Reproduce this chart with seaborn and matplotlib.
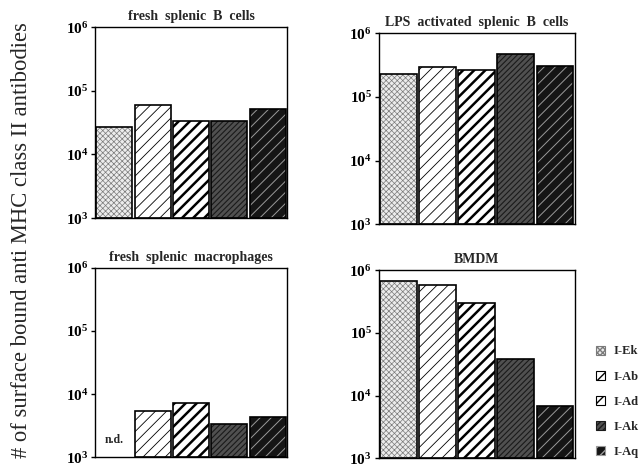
import numpy as np
import pandas as pd
import matplotlib
matplotlib.use("Agg")
import matplotlib.pyplot as plt
from matplotlib.patches import Rectangle, Patch
from matplotlib.ticker import NullLocator
import seaborn as sns

# MHC class II alleles (one bar per allele in every panel)
alleles = ["I-Ek", "I-Ab", "I-Ad", "I-Ak", "I-Aq"]

# panel titles
titles = ["fresh  splenic  B  cells", "LPS  activated  splenic  B  cells",
          "fresh  splenic  macrophages", "BMDM"]

# surface bound antibodies per cell
b_fresh = [27500, 59000, 34000, 33000, 52000]
b_lps = [230000, 295000, 265000, 470000, 305000]
mac_fresh = [np.nan, 5400, 7200, 3400, 4400]   # I-Ek not determined
bmdm = [675000, 585000, 305000, 39000, 6700]

# look of each allele: face, hatch, hatch colour, hatch width
face_colors = ["#ececec", "white", "white", "#505050", "#151515"]
hatches = ["xxxxxx", "///", "///", "//////", "///"]
hatch_colors = ["#7a7a7a", "black", "black", "#1a1a1a", "#9a9a9a"]
hatch_widths = [0.5, 0.6, 1.8, 0.8, 0.7]

sns.set_theme(style="white")
plt.rcParams["font.family"] = ["Liberation Serif", "DejaVu Serif"]
plt.rcParams["mathtext.fontset"] = "custom"
plt.rcParams["mathtext.rm"] = "Liberation Serif"
plt.rcParams["mathtext.bf"] = "Liberation Serif:bold"

fig = plt.figure(figsize=(6.42, 4.70), dpi=100)

# axes boxes [left, bottom, width, height] in figure fractions
boxes = [
    [0.148, 0.536, 0.299, 0.406],
    [0.590, 0.523, 0.305, 0.406],
    [0.148, 0.027, 0.299, 0.403],
    [0.590, 0.025, 0.305, 0.400],
]
data = [b_fresh, b_lps, mac_fresh, bmdm]
base = 1e3  # bars rise from the bottom of the log axis

for k in range(4):
    ax = fig.add_axes(boxes[k])
    df = pd.DataFrame({"allele": alleles, "count": data[k]})
    sns.barplot(data=df, x="allele", y="count", hue="allele",
                palette=dict(zip(alleles, face_colors)), saturation=1,
                width=0.94, legend=False, ax=ax)
    ax.set_yscale("log")
    for p in list(ax.patches):
        i = int(round(p.get_x() + p.get_width() / 2))
        top = data[k][i]
        if np.isnan(top):
            p.set_visible(False)
            continue
        p.set_y(base)
        p.set_height(top - base)
        p.set_hatch(hatches[i])
        p.set_edgecolor(hatch_colors[i])
        p.set_linewidth(0)
        if hasattr(p, "set_hatch_linewidth"):
            p.set_hatch_linewidth(hatch_widths[i])
        ax.add_patch(Rectangle((p.get_x(), base), p.get_width(), top - base,
                               fill=False, edgecolor="black", linewidth=1.2, zorder=3))
    ax.set_ylim(1e3, 1e6)
    ax.set_xlim(-0.5, 4.5)
    ax.set_yticks([1e3, 1e4, 1e5, 1e6])
    ax.set_yticklabels([r"$\mathbf{10^{%d}}$" % e for e in [3, 4, 5, 6]], fontsize=11,
                       va="center_baseline")
    ax.yaxis.set_minor_locator(NullLocator())
    ax.tick_params(axis="y", which="major", left=True, length=3, width=1,
                   direction="out", pad=2, colors="black")
    ax.set_xticks([])
    ax.set_xlabel("")
    ax.set_ylabel("")
    for s in ax.spines.values():
        s.set_visible(True)
        s.set_color("black")
        s.set_linewidth(1)
    ax.set_title(titles[k], fontsize=10, fontweight="bold", pad=5)
    if k == 2:
        ax.text(0, 10 ** 3.28, "n.d.", ha="center", va="center",
                fontsize=8.5, fontweight="bold")

fig.text(0.034, 0.489, "# of surface bound anti MHC class II antibodies",
         rotation=90, ha="center", va="center", fontsize=16.3)

handles = []
for i in range(5):
    h = Patch(facecolor=face_colors[i], edgecolor=hatch_colors[i], hatch=hatches[i],
              linewidth=0.8)
    handles.append(h)
leg = fig.legend(handles, alleles, loc="upper left", bbox_to_anchor=(0.928, 0.265),
                 frameon=False, handlelength=0.75, handleheight=0.75, handletextpad=0.7,
                 labelspacing=1.05, borderaxespad=0, borderpad=0,
                 prop={"weight": "bold", "size": 9})

fig.savefig("out.png", dpi=100)
